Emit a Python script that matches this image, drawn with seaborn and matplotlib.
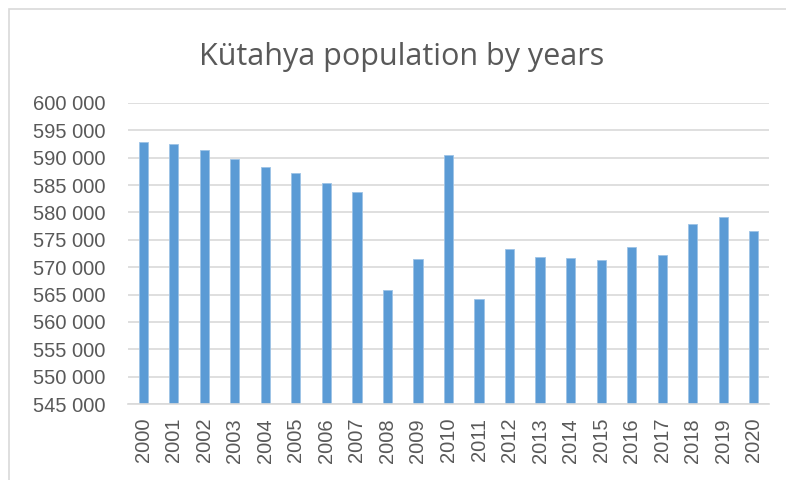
import seaborn as sns
import pandas as pd
import matplotlib.pyplot as plt
from matplotlib.patches import Rectangle
from matplotlib.ticker import FuncFormatter

# Population values
years = [str(y) for y in range(2000, 2021)]
population = [592900, 592500, 591400, 589750, 588300, 587200, 585450, 583750,
              565900, 571550, 590550, 564200, 573250, 571900, 571600, 571300,
              573650, 572150, 577850, 579250, 576700]

df = pd.DataFrame({"year": years, "population": population})

sns.set_theme(style="white")
plt.rcParams['font.family'] = ['Liberation Sans', 'DejaVu Sans']

fig = plt.figure(figsize=(7.86, 4.8), dpi=100)
ax = fig.add_axes([128 / 786, 1 - 404 / 480, 641 / 786, 301 / 480])

sns.barplot(data=df, x="year", y="population", color="#5B9BD5",
            width=0.3, saturation=1, edgecolor="#9DC3E6", linewidth=0.6, ax=ax)

ax.set_ylim(545000, 600000)
ax.set_yticks(range(545000, 600001, 5000))
ax.yaxis.set_major_formatter(FuncFormatter(lambda v, p: f"{int(v):,}".replace(",", " ")))
ax.grid(axis="y", color="#D9D9D9", linewidth=1.2)
ax.set_axisbelow(True)
ax.set_xlabel("")
ax.set_ylabel("")
for s in ["top", "right", "left"]:
    ax.spines[s].set_visible(False)
ax.spines["bottom"].set_color("#D9D9D9")
ax.spines["bottom"].set_linewidth(1.2)
ax.tick_params(axis="both", length=0, colors="#595959", labelsize=14.5)
ax.tick_params(axis="y", pad=16)
ax.tick_params(axis="x", pad=10)
plt.setp(ax.get_xticklabels(), rotation=90)

fig.text(402 / 786, 1 - 57 / 480, "Kütahya population by years", ha="center", va="center",
         fontsize=22, color="#595959", family=["Open Sans", "DejaVu Sans"])

# light frame around the chart
fig.patches.append(Rectangle((9 / 786, -0.1), 1.2, 1 - 9 / 480 + 0.1, transform=fig.transFigure,
                             fill=False, edgecolor="#D9D9D9", linewidth=1.2))

fig.savefig("out.png", dpi=100)
